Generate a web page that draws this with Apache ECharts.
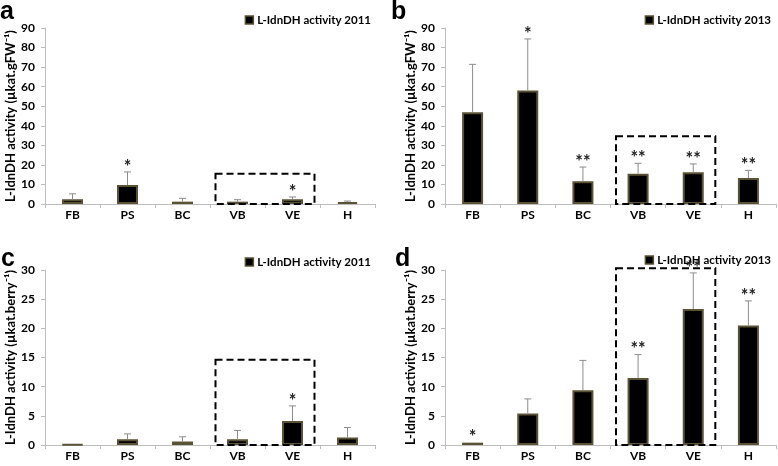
<!DOCTYPE html>
<html>
<head>
<meta charset="utf-8">
<script src="https://cdn.jsdelivr.net/npm/echarts@6/dist/echarts.min.js"></script>
<style>html,body{margin:0;padding:0;background:#fff}#c{width:778px;height:466px}</style>
</head>
<body>
<div id="c"></div>
<script>
// ---- data ----
const categories = ['FB', 'PS', 'BC', 'VB', 'VE', 'H'];
const valA = [2.4, 9.7, 1.2, 1.2, 2.4, 0.9];
const sdA  = [2.8, 6.7, 1.7, 1.0, 1.2, 0.6];
const sigA = ['', '*', '', '', '*', ''];
const valB = [46.9, 58.1, 11.6, 15.5, 16.2, 13.3];
const sdB  = [24.5, 26.3, 7.3, 5.3, 4.3, 3.9];
const sigB = ['', '*', '**', '**', '**', '**'];
const valC = [0.1, 1.0, 0.6, 1.0, 4.1, 1.3];
const sdC  = [0, 0.9, 0.8, 1.5, 2.6, 1.7];
const sigC = ['', '', '', '', '*', ''];
const valD = [0.4, 5.4, 9.4, 11.5, 23.3, 20.5];
const sdD  = [0, 2.5, 5.1, 4.0, 6.2, 4.2];
const sigD = ['*', '', '', '**', '**', '**'];
const yTicksFW = [0, 10, 20, 30, 40, 50, 60, 70, 80, 90];
const yTicksBerry = [0, 5, 10, 15, 20, 25, 30];
const boxTop = [15.5, 34.6, 14.6, 30.3]; // dashed box heights (a,b,c,d)
const name2011 = 'L-IdnDH activity 2011';
const name2013 = 'L-IdnDH activity 2013';
const yNameFW = 'L-IdnDH activity (µkat.gFW⁻¹)';
const yNameBerry = 'L-IdnDH activity (µkat.berry⁻¹)';

const FONT = 'Lato';
const panels = [
  {letter: 'a', vals: valA, sd: sdA, sig: sigA, name: name2011, ticks: yTicksFW, yName: yNameFW, box: boxTop[0],
   grid: {left: 45, top: 28, width: 330, height: 176}, lx: 0, ly: 0, legRight: 407, legTop: 14},
  {letter: 'b', vals: valB, sd: sdB, sig: sigB, name: name2013, ticks: yTicksFW, yName: yNameFW, box: boxTop[1],
   grid: {left: 445, top: 28, width: 331, height: 176}, lx: 391, ly: 0, legRight: 7, legTop: 14},
  {letter: 'c', vals: valC, sd: sdC, sig: sigC, name: name2011, ticks: yTicksBerry, yName: yNameBerry, box: boxTop[2],
   grid: {left: 45, top: 270, width: 330, height: 175}, lx: 1, ly: 247, legRight: 407, legTop: 256},
  {letter: 'd', vals: valD, sd: sdD, sig: sigD, name: name2013, ticks: yTicksBerry, yName: yNameBerry, box: boxTop[3],
   grid: {left: 445, top: 270, width: 331, height: 175}, lx: 395, ly: 247, legRight: 7, legTop: 254}
];

const barStyle = {color: '#000', borderColor: '#5a5234', borderWidth: 2};
const option = {
  animation: false,
  backgroundColor: '#fff',
  title: [], legend: [], grid: [], xAxis: [], yAxis: [], series: []
};

panels.forEach((p, i) => {
  option.title.push({
    text: p.letter, left: p.lx, top: p.ly, padding: 0,
    textStyle: {fontFamily: 'Liberation Sans', fontWeight: 'bold', fontSize: 25, color: '#000'}
  });
  option.legend.push({
    data: [{name: p.name, icon: 'rect'}], right: p.legRight, top: p.legTop, padding: 0,
    itemWidth: 8, itemHeight: 8, itemGap: 4, selectedMode: false,
    itemStyle: {color: '#000', borderColor: '#5a5234', borderWidth: 1.5},
    textStyle: {fontFamily: FONT, fontWeight: 'bold', fontSize: 11.5, color: '#000', padding: [0, 0, 0, -1]}
  });
  option.grid.push(Object.assign({containLabel: false}, p.grid));
  option.xAxis.push({
    type: 'category', gridIndex: i, data: categories, boundaryGap: true,
    axisLine: {lineStyle: {color: '#bdbdbd', width: 1}},
    axisTick: {show: true, length: 4, lineStyle: {color: '#bdbdbd'}},
    axisLabel: {margin: 5, fontFamily: FONT, fontWeight: 'bold', fontSize: 12, color: '#000'}
  });
  const maxV = p.ticks[p.ticks.length - 1];
  option.yAxis.push({
    type: 'value', gridIndex: i, min: p.ticks[0], max: maxV, interval: p.ticks[1] - p.ticks[0],
    name: p.yName, nameLocation: 'middle', nameGap: 26, nameRotate: 90,
    nameTextStyle: {fontFamily: FONT, fontWeight: 'bold', fontSize: 13, color: '#000'},
    axisLine: {show: true, lineStyle: {color: '#bdbdbd', width: 1}},
    axisTick: {show: true, length: 4, lineStyle: {color: '#bdbdbd'}},
    splitLine: {show: false},
    axisLabel: {margin: 10, fontFamily: FONT, fontWeight: 'bold', fontSize: 12, color: '#000'}
  });
  option.series.push({
    type: 'bar', name: p.name, xAxisIndex: i, yAxisIndex: i, data: p.vals,
    barWidth: 21, itemStyle: barStyle
  });
  // error bars + significance stars
  option.series.push({
    type: 'custom', xAxisIndex: i, yAxisIndex: i, z: 5, clip: false,
    data: p.vals.map((v, k) => [k, v, v + p.sd[k]]),
    renderItem: (params, api) => {
      const k = api.value(0);
      const base = api.coord([k, api.value(1)]);
      const top = api.coord([k, api.value(2)]);
      const children = [];
      if (api.value(2) > api.value(1)) {
        children.push({type: 'line', shape: {x1: base[0], y1: base[1], x2: top[0], y2: top[1]},
          style: {stroke: '#8c8c8c', lineWidth: 1}});
        children.push({type: 'line', shape: {x1: top[0] - 3.5, y1: top[1], x2: top[0] + 3.5, y2: top[1]},
          style: {stroke: '#8c8c8c', lineWidth: 1}});
      }
      const s = p.sig[params.dataIndex];
      if (s) {
        children.push({type: 'text', x: top[0], y: top[1] + 4,
          style: {text: s, fill: '#222', font: 'bold 18px ' + FONT, textAlign: 'center', textVerticalAlign: 'bottom'}});
      }
      return {type: 'group', children};
    }
  });
  // dashed box around VB-VE
  option.series.push({
    type: 'custom', xAxisIndex: i, yAxisIndex: i, z: 6, clip: false,
    data: [[3, p.box]],
    renderItem: (params, api) => {
      const band = api.size([1, 0])[0];
      const left = api.coord([2, 0])[0] + 0.6 * band;
      const right = api.coord([4, 0])[0] + 0.4 * band;
      const y0 = api.coord([3, 0])[1];
      const y1 = api.coord([3, api.value(1)])[1];
      return {type: 'rect', shape: {x: left, y: y1, width: right - left, height: y0 - y1},
        style: {fill: 'none', stroke: '#000', lineWidth: 2, lineDash: [7, 4]}};
    }
  });
});

const chart = echarts.init(document.getElementById('c'), null, {renderer: 'canvas'});
chart.setOption(option);
</script>
</body>
</html>
